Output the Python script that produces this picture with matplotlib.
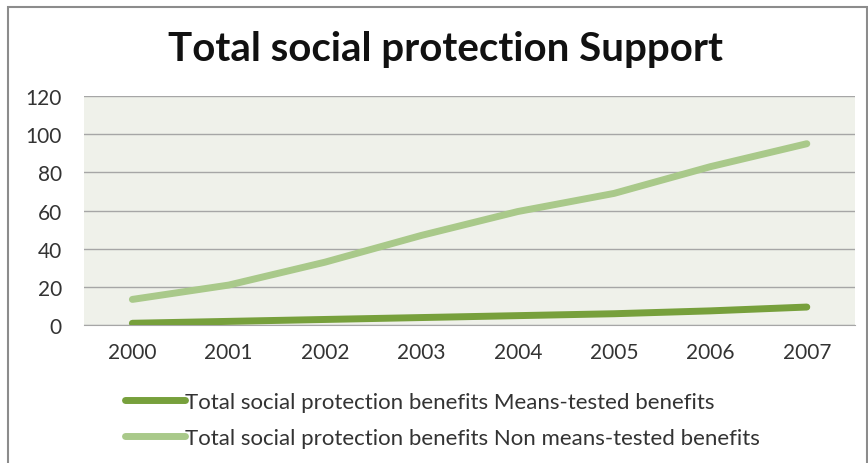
import matplotlib.pyplot as plt
from matplotlib.patches import Rectangle

years = ['2000', '2001', '2002', '2003', '2004', '2005', '2006', '2007']
means_tested = [1, 2, 3, 4, 5, 6, 7.5, 9.5]
non_means_tested = [13.5, 21, 33, 47, 59.5, 69, 83, 95]

plt.rcParams['font.family'] = ['Lato', 'DejaVu Sans']

fig = plt.figure(figsize=(8.68, 4.64), dpi=100)
fig.patches.append(Rectangle((0.009, -0.01), 0.99, 0.993, transform=fig.transFigure,
                             fill=False, edgecolor='#8c8c8c', linewidth=1.5))

ax = fig.add_axes([0.097, 0.297, 0.888, 0.494])
ax.set_facecolor('#eff1ea')
x = range(len(years))
ax.plot(x, means_tested, color='#77a03c', linewidth=5, solid_capstyle='round',
        label='Total social protection benefits Means-tested benefits', zorder=3)
ax.plot(x, non_means_tested, color='#a9c98a', linewidth=5, solid_capstyle='round',
        label='Total social protection benefits Non means-tested benefits', zorder=3)

ax.set_xlim(-0.5, len(years) - 0.5)
ax.set_ylim(0, 120)
ax.set_yticks(range(0, 121, 20))
ax.set_xticks(list(x))
ax.set_xticklabels(years)
ax.yaxis.grid(True, color='#a6a6a6', linewidth=1)
ax.set_axisbelow(True)
for s in ['left', 'right', 'top']:
    ax.spines[s].set_visible(False)
ax.spines['bottom'].set_color('#a6a6a6')
ax.tick_params(length=0, labelsize=15, colors='#333333', pad=12)
ax.tick_params(axis='y', pad=16)

fig.text(0.513, 0.893, 'Total social protection Support', ha='center', va='center',
         fontsize=29, fontweight='bold', color='#111111')

fig.legend(loc='upper left', bbox_to_anchor=(0.121, 0.197), frameon=False,
           fontsize=16, handlelength=2.7, handletextpad=0.0, labelspacing=0.72,
           labelcolor='#333333')

fig.savefig('out.png', dpi=100)
